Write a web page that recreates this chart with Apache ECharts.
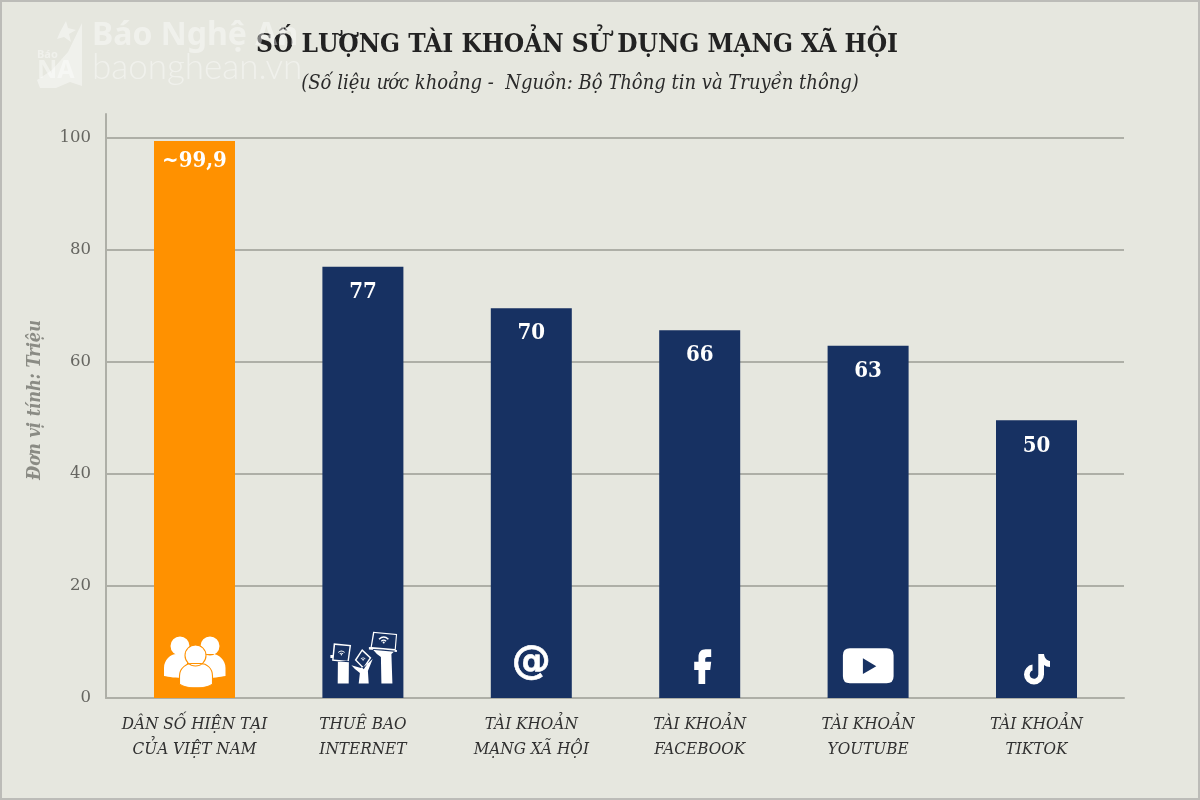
<!DOCTYPE html>
<html><head><meta charset="utf-8">
<style>html,body{margin:0;padding:0;background:#e6e7df}#c{width:1200px;height:800px}</style>
<script src="https://cdn.jsdelivr.net/npm/echarts@6/dist/echarts.min.js"></script>
</head><body><div id="c"></div>
<script>
const categories = ['DÂN SỐ HIỆN TẠI\nCỦA VIỆT NAM','THUÊ BAO\nINTERNET','TÀI KHOẢN\nMẠNG XÃ HỘI','TÀI KHOẢN\nFACEBOOK','TÀI KHOẢN\nYOUTUBE','TÀI KHOẢN\nTIKTOK'];
const barValues = [99.5, 77, 69.6, 65.7, 62.9, 49.6];
const valueLabels = ['~99,9','77','70','66','63','50'];
const barColors = ['#ff9100','#173162','#173162','#173162','#173162','#173162'];
const labelGaps = [9,14,14,14,14,15];
const titleText = 'SỐ LƯỢNG TÀI KHOẢN SỬ DỤNG MẠNG XÃ HỘI';
const subtitleText = '(Số liệu ước khoảng -  Nguồn: Bộ Thông tin và Truyền thông)';
const unitText = 'Đơn vị tính: Triệu';
const serif = '"DejaVu Serif Condensed","DejaVu Serif",serif';

const ORANGE='#ff9100', NAVY='#173162', WHITE='#ffffff';
function framed(w,h,d){return 'path://M0 0L0 0Z M'+w+' '+h+'L'+w+' '+h+'Z '+d;}
function circ(x,y,r){return 'M'+(x-r)+' '+y+'A'+r+' '+r+' 0 1 1 '+(x+r)+' '+y+'A'+r+' '+r+' 0 1 1 '+(x-r)+' '+y+'Z ';}
function wifi(x,y,s){return circ(x,y+2.4*s,0.8*s)
 +'M'+(x-4*s)+' '+(y-0.4*s)+'Q'+x+' '+(y-4.2*s)+' '+(x+4*s)+' '+(y-0.4*s)+'L'+(x+3.2*s)+' '+(y+0.4*s)+'Q'+x+' '+(y-2.8*s)+' '+(x-3.2*s)+' '+(y+0.4*s)+'Z '
 +'M'+(x-2.2*s)+' '+(y+1.2*s)+'Q'+x+' '+(y-0.8*s)+' '+(x+2.2*s)+' '+(y+1.2*s)+'L'+(x+1.5*s)+' '+(y+1.9*s)+'Q'+x+' '+(y+0.5*s)+' '+(x-1.5*s)+' '+(y+1.9*s)+'Z ';}

const P=[72,60], H=[72,64];
const iconLayers = [
 {cat:0,box:P,fill:WHITE,d:circ(21.5,14,9.5)+circ(51.5,14,9.5)+'M5.5 44V36C5.5 28 12 22 18 22L30 22L26 46C18 46 10 45 5.5 44Z M67 44V36C67 28 60 22 54 22L42 22L46 46C54 46 62 45 67 44Z'},
 {cat:0,box:P,fill:WHITE,stroke:ORANGE,sw:1,d:'M21 52V44C21 36 28 31.5 33 31.5H42C48 31.5 54 36 54 44V52C48 57 27 57 21 52Z'+circ(37,23.5,10.5)},
 {cat:1,box:H,fill:WHITE,d:'M10.8 53.5H21.8L22 31H11Z M31.8 53.5H41.8L41 41L45.8 29L38 36L34 38L24.5 35.3L28 39L33 43Z M54.5 53.5H65.5L64.5 24L69 20L45.5 19L50 24L54 27Z M46.2 1.7L70.2 4L68.8 20.7L43.5 18.3Z M6.8 13.3L24.2 15L21.8 32.3L5.2 30.7Z M35.2 19L44.5 27.7L36.8 39.3L27.8 30Z M3.5 25H8V28H3.5Z M42 17L70 20V22L42 19.5Z'},
 {cat:1,box:H,fill:NAVY,d:'M47.4 3L69 5L67.8 19L44.9 16.9Z M8.2 14.9L22.6 16.3L20.6 30.8L6.7 29.4Z M35.3 21.2L42.6 27.9L36.6 37.1L29.7 30Z'},
 {cat:1,box:H,fill:WHITE,d:wifi(56.8,9.3,1.3)+wifi(14.5,22.5,0.9)+wifi(36.2,29,0.6)},
 {cat:3,box:P,fill:WHITE,d:'M34.8 52V38H30.5V29.7H34.8V25C34.8 20 37.5 17.3 42 17.3H47.5V25H44C42 25 41.5 26 41.5 27.5V29.7H47.5L46.5 38H41.5V52Z'},
 {cat:4,box:P,fill:WHITE,d:'M17.8 16.3H54.5Q61.5 16.3 61.5 23.3V44.3Q61.5 51.3 54.5 51.3H17.8Q10.8 51.3 10.8 44.3V23.3Q10.8 16.3 17.8 16.3Z'},
 {cat:4,box:P,fill:NAVY,d:'M30.8 26.3L44.2 34.2L30.8 42Z'},
 {cat:5,box:P,fill:WHITE,d:'M37.8 22H43.5C44 26.5 46.5 28.5 49.5 29V35C47 35 45 34 43.5 33V42.5A10 10 0 1 1 32 32.6V38.4A4.3 4.3 0 1 0 37.8 42.5Z'}
];
const iconValue = 6.43;
const iconData = iconLayers.map(l=>({
  value:[l.cat,iconValue], symbol:framed(l.box[0],l.box[1],l.d), symbolSize:l.box,
  itemStyle:{color:l.fill,borderColor:l.stroke||l.fill,borderWidth:l.sw||0,opacity:1}
}));
iconData.push({value:[2,iconValue],symbol:'circle',symbolSize:1,itemStyle:{color:'rgba(0,0,0,0)',opacity:1},
  label:{show:true,position:'inside',formatter:'@',color:WHITE,opacity:1,fontFamily:'"DejaVu Sans",sans-serif',fontWeight:'bold',fontSize:39,textBorderColor:WHITE,textBorderWidth:0.6,offset:[0,1]}});

const yMax = 104.3;
const wm='rgba(255,255,255,0.42)';
const chart = echarts.init(document.getElementById('c'),null,{renderer:'canvas'});
chart.setOption({
  animation:false,
  backgroundColor:'#e6e7df',
  title:[
    {text:titleText,left:572,top:27,textAlign:'center',textStyle:{fontFamily:serif,fontWeight:'bold',fontSize:26,color:'#222222'}},
    {text:subtitleText,left:575,top:69,textAlign:'center',textStyle:{fontFamily:serif,fontStyle:'italic',fontWeight:'normal',fontSize:20,color:'#2a2a2a'}}
  ],
  grid:[
    {left:106,right:76,top:114,bottom:102},
    {left:110.3,right:79.3,top:114,bottom:102}
  ],
  xAxis:[
    {gridIndex:0,type:'value',min:0,max:1,axisLabel:{show:false},axisTick:{show:false},splitLine:{show:false},
     axisLine:{show:true,onZero:false,lineStyle:{color:'#aeafa7',width:2}}},
    {gridIndex:1,type:'category',data:categories,axisLine:{show:false},axisTick:{show:false},
     axisLabel:{interval:0,margin:14,fontFamily:serif,fontStyle:'italic',fontSize:17,lineHeight:25,color:'#303030'}}
  ],
  yAxis:[
    {gridIndex:0,type:'value',min:0,max:yMax,interval:20,
     name:unitText,nameLocation:'middle',nameRotate:90,nameGap:62,
     nameTextStyle:{fontFamily:serif,fontStyle:'italic',fontWeight:'bold',fontSize:18,color:'#8a8b84',padding:[0,0,0,12]},
     axisLine:{show:true,lineStyle:{color:'#aeafa7',width:2}},axisTick:{show:false},
     axisLabel:{margin:15,showMaxLabel:false,fontFamily:'"DejaVu Serif",serif',fontSize:16.5,color:'#666661'},
     splitLine:{show:true,showMinLine:false,showMaxLine:false,lineStyle:{color:'#aeafa7',width:2}}},
    {gridIndex:1,type:'value',min:0,max:yMax,interval:20,show:false,splitLine:{show:false}}
  ],
  series:[
    {type:'bar',xAxisIndex:1,yAxisIndex:1,barWidth:81,z:3,
     data:barValues.map((v,i)=>({value:v,itemStyle:{color:barColors[i]},label:{distance:labelGaps[i]}})),
     label:{show:true,position:'insideTop',formatter:p=>valueLabels[p.dataIndex],
       fontFamily:serif,fontWeight:'bold',fontSize:22,color:'#ffffff'}},
    {type:'scatter',xAxisIndex:1,yAxisIndex:1,z:4,silent:true,data:iconData}
  ],
  graphic:[
    {type:'rect',z:0,silent:true,shape:{x:1,y:1,width:1198,height:798},style:{fill:'none',stroke:'#bcbcb8',lineWidth:2}},
    {type:'polygon',z:100,silent:true,shape:{points:[[82,23],[82,86],[70,82],[56,88],[40,88],[37,80],[52,70],[68,52]]},style:{fill:wm}},
    {type:'polygon',z:100,silent:true,shape:{points:[[66,21],[68,28],[76,30],[69,34],[71,42],[64,37],[57,39],[60,32]]},style:{fill:wm}},
    {type:'text',z:100,silent:true,x:92,y:20,style:{text:'Báo Nghệ An',font:'bold 32px "Noto Sans",sans-serif',fill:wm}},
    {type:'text',z:100,silent:true,x:92,y:50,style:{text:'baonghean.vn',font:'300 35px Lato,"Noto Sans",sans-serif',fill:wm}},
    {type:'text',z:100,silent:true,x:37,y:49,style:{text:'Báo',font:'bold 11px "Noto Sans",sans-serif',fill:wm}},
    {type:'text',z:100,silent:true,x:37,y:58,style:{text:'NA',font:'bold 25px "Noto Sans",sans-serif',fill:wm}}
  ]
});
</script></body></html>
